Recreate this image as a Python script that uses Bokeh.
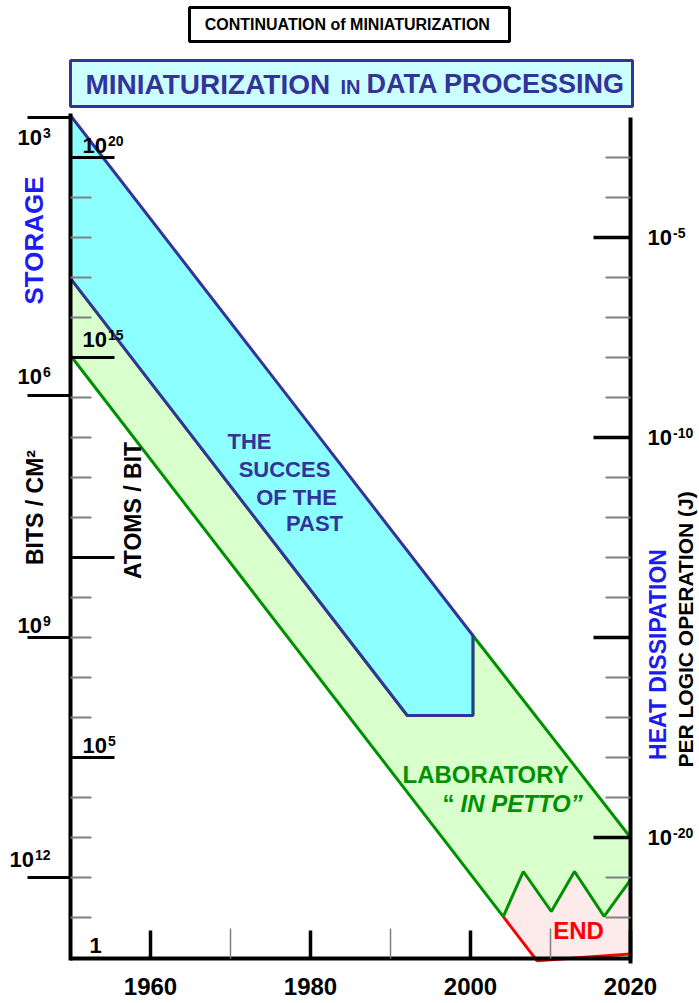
import math
from bokeh.plotting import figure
from bokeh.models import Range1d, LinearAxis, FixedTicker, Label
from bokeh.embed import file_html
from bokeh.resources import INLINE
from bokeh.core.properties import value

FONT = "Liberation Sans"
NAVY = "#333399"
BLUE = "#1c1cf2"
GREEN = "#009100"
RED = "#ff0000"

# ---------------- data ----------------
year_ticks = [1960, 1980, 2000, 2020]
year_minor = [1970, 1990, 2010]

# vertical scale: log10(atoms / bit) (inner left scale)
atoms_major = [20, 15, 10, 5]
atoms_label_pos = [20.3, 15.45, 5.3, 0.3]
atoms_label_exp = ["20", "15", "5", None]
grid_minor_left = [1, 2, 3, 4, 6, 7, 8, 9, 11, 12, 13, 14, 16, 17, 18, 19]

# bits / cm2 (outer left scale), tick positions on the same grid
bits_tick_pos = [21, 14.05, 8, 2]
bits_label_pos = [20.51, 14.52, 8.3, 2.46]
bits_label_exp = ["3", "6", "9", "12"]

# heat dissipation per logic operation (right scale)
heat_tick_pos = [18, 13, 8, 3]
heat_label_exp = ["-5", "-10", None, "-20"]
grid_minor_right = [1, 2, 4, 5, 6, 7, 9, 10, 11, 12, 14, 15, 16, 17, 19, 20]

# "the succes of the past" band
past_years = [1950, 2000.3, 2000.3, 1992.1, 1950]
past_log = [21.05, 8.05, 6.05, 6.05, 16.98]

# "laboratory in petto" band
lab_years = [1950, 1992.1, 2000.3, 2000.3, 2020, 2020, 2016.7, 2013.0, 2010.1, 2006.6, 2004.1, 1950]
lab_log = [16.98, 6.05, 6.05, 8.05, 3.0, 1.94, 1.03, 2.15, 1.15, 2.15, 1.02, 15.05]

# "end" region
end_years = [2004.1, 2006.6, 2010.1, 2013.0, 2016.7, 2020, 2020, 2008.3]
end_log = [1.02, 2.15, 1.15, 2.15, 1.03, 1.94, 0.09, -0.08]
end_edge_years = [2004.1, 2008.3, 2020, 2020]
end_edge_log = [1.02, -0.08, 0.09, 1.94]


# helpers converting page pixel positions (for texts / header boxes) into data units
def X(px):
    return 1950 + (px - 70) / 8.0


def Y(py):
    return (957 - py) / 40.0


W, H = 699, 1003
p = figure(width=W, height=H, x_range=Range1d(X(0), X(W)), y_range=Range1d(Y(H), Y(0)),
           toolbar_location=None, output_backend="svg", title=None, min_border=0,
           x_axis_location=None, y_axis_location=None, outline_line_color=None)
p.grid.visible = False

# ---------------- header ----------------
p.quad(left=[X(189)], right=[X(509)], top=[Y(7)], bottom=[Y(41)], fill_color="white",
       line_color="black", line_width=3)
p.text(x=[X(349)], y=[Y(24)], text=["CONTINUATION of  MINIATURIZATION"], text_font=value(FONT),
       text_font_size="16px", text_font_style="bold", text_align="center",
       text_baseline="middle", text_color="black")
p.quad(left=[X(70)], right=[X(632)], top=[Y(60)], bottom=[Y(106)], fill_color="#ccffff",
       line_color=NAVY, line_width=3)
p.text(x=[X(85)], y=[Y(83.5)], text=["MINIATURIZATION"], text_font=value(FONT), text_font_size="28px",
       text_font_style="bold", text_align="left", text_baseline="middle", text_color=NAVY)
p.text(x=[X(340)], y=[Y(86.5)], text=["IN"], text_font=value(FONT), text_font_size="20px",
       text_font_style="bold", text_align="left", text_baseline="middle", text_color=NAVY)
p.text(x=[X(366)], y=[Y(83.5)], text=["DATA PROCESSING"], text_font=value(FONT), text_font_size="27px",
       text_font_style="bold", text_align="left", text_baseline="middle", text_color=NAVY)

# ---------------- regions ----------------
p.patch(end_years, end_log, fill_color="#fdeaea", line_color=None)
p.line(end_edge_years, end_edge_log, line_color=RED, line_width=3)
p.patch(lab_years, lab_log, fill_color="#d9ffcc", line_color=GREEN, line_width=3)
p.patch(past_years, past_log, fill_color="#8cffff", line_color=NAVY, line_width=3)

# inner atoms/bit major ticks
p.ray(x=[1950] * len(atoms_major), y=atoms_major, length=44, length_units="screen",
      angle=0, line_color="black", line_width=3)

# ---------------- axes ----------------
xa = LinearAxis(fixed_location=-0.025, bounds=(1950, 2020),
                ticker=FixedTicker(ticks=year_ticks, minor_ticks=year_minor))
xa.axis_line_width = 4
xa.axis_line_color = "black"
xa.major_tick_in = 28
xa.major_tick_out = 0
xa.major_tick_line_width = 3.5
xa.major_tick_line_color = "black"
xa.minor_tick_in = 30
xa.minor_tick_out = 0
xa.minor_tick_line_color = "#808080"
xa.minor_tick_line_width = 1.5
xa.major_label_text_font = FONT
xa.major_label_text_font_size = "24px"
xa.major_label_text_font_style = "bold"
xa.major_label_text_color = "black"
xa.major_label_standoff = 19
p.add_layout(xa, "below")

ya = LinearAxis(fixed_location=1950, bounds=(-0.08, 21.1),
                ticker=FixedTicker(ticks=bits_tick_pos, minor_ticks=grid_minor_left))
ya.axis_line_width = 4
ya.axis_line_color = "black"
ya.major_tick_out = 43
ya.major_tick_in = 0
ya.major_tick_line_width = 3
ya.major_tick_line_color = "black"
ya.minor_tick_in = 21
ya.minor_tick_out = 0
ya.minor_tick_line_color = "#808080"
ya.minor_tick_line_width = 2
ya.major_label_text_color = None
p.add_layout(ya, "left")

ra = LinearAxis(fixed_location=2020, bounds=(-0.15, 21.0),
                ticker=FixedTicker(ticks=heat_tick_pos, minor_ticks=grid_minor_right))
ra.axis_line_width = 4
ra.axis_line_color = "black"
ra.major_tick_in = 37
ra.major_tick_out = 0
ra.major_tick_line_width = 3.5
ra.major_tick_line_color = "black"
ra.minor_tick_in = 25
ra.minor_tick_out = 0
ra.minor_tick_line_color = "#808080"
ra.minor_tick_line_width = 2
ra.major_label_text_color = None
p.add_layout(ra, "right")


# ---------------- texts ----------------
def lab(x, y, text, size, color="black", align="left", baseline="middle", style="bold", angle=0):
    p.add_layout(Label(x=x, y=y, text=text, text_font=FONT, text_font_size=f"{size}px",
                       text_font_style=style, text_align=align, text_baseline=baseline,
                       text_color=color, angle=angle))


def power(xpx, y, exp, base=22, sup=14, color="black"):
    lab(X(xpx), y, "10", base, color)
    if exp:
        lab(X(xpx + base * 1.112 + 1), y + 4.5 / 40, exp, sup, color)


# outer left labels (bits / cm2)
for pos, e, xl in zip(bits_label_pos, bits_label_exp, [17, 17, 17, 9]):
    power(xl, pos, e)

# inner left labels (atoms / bit)
for pos, e in zip(atoms_label_pos, atoms_label_exp):
    if e is None:
        lab(X(89), pos, "1", 22)
    else:
        power(82, pos, e)

# right labels
for pos, e in zip(heat_tick_pos, heat_label_exp):
    if e is not None:
        power(647, pos, e)

# axis titles
lab(X(33), Y(240), "STORAGE", 26, BLUE, align="center", angle=math.pi / 2)
lab(X(34), Y(507), "BITS / CM²", 23, align="center", angle=math.pi / 2)
lab(X(132.5), Y(510), "ATOMS / BIT", 23, align="center", angle=math.pi / 2)
lab(X(657), Y(654), "HEAT DISSIPATION", 23, BLUE, align="center", angle=math.pi / 2)
lab(X(685), Y(626), "PER  LOGIC OPERATION (J)", 21, align="center", angle=math.pi / 2)

# region texts
for t, cx, cy in [("THE", 249, 441), ("SUCCES", 284, 469), ("OF THE", 296, 497), ("PAST", 314, 523)]:
    lab(X(cx), Y(cy), t, 22, NAVY, align="center")
lab(X(402), Y(774), "LABORATORY", 24, GREEN)
lab(X(442), Y(803), "\u201c", 24, GREEN)
lab(X(460), Y(803), "IN PETTO\u201d", 24, GREEN, style="bold italic")
lab(X(578), Y(930), "END", 24, RED, align="center")

open("out.html", "w").write(file_html(p, INLINE))
